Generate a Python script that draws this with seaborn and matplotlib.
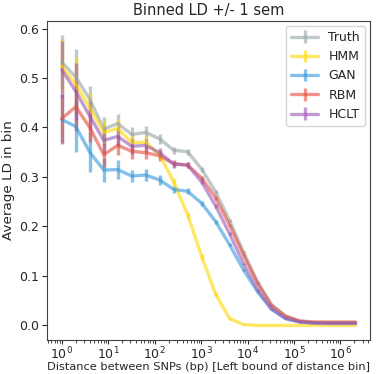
import numpy as np
import matplotlib
matplotlib.use("Agg")
import matplotlib.pyplot as plt
import seaborn as sns

# bin left bounds (bp)
distance = [1, 2, 4, 8, 16, 32, 64, 128, 256, 512, 1024, 2048, 4096, 8192,
            16384, 32768, 65536, 131072, 262144, 524288, 1048576, 2097152]

truth = [0.532, 0.502, 0.457, 0.397, 0.408, 0.386, 0.390, 0.377, 0.354, 0.351, 0.316,
         0.270, 0.212, 0.148, 0.088, 0.042, 0.019, 0.009, 0.006, 0.005, 0.005, 0.005]
hmm = [0.524, 0.487, 0.440, 0.390, 0.398, 0.370, 0.370, 0.345, 0.290, 0.224, 0.140,
       0.063, 0.014, 0.002, 0.0, 0.0, 0.0, 0.0, 0.0, 0.0, 0.0, 0.0]
gan = [0.416, 0.402, 0.350, 0.314, 0.315, 0.302, 0.304, 0.294, 0.275, 0.271, 0.247,
       0.210, 0.163, 0.112, 0.068, 0.033, 0.014, 0.007, 0.005, 0.005, 0.005, 0.005]
rbm = [0.418, 0.442, 0.400, 0.345, 0.364, 0.352, 0.349, 0.343, 0.327, 0.324, 0.298,
       0.258, 0.203, 0.142, 0.085, 0.040, 0.019, 0.009, 0.007, 0.007, 0.007, 0.007]
hclt = [0.517, 0.473, 0.423, 0.374, 0.382, 0.362, 0.364, 0.349, 0.326, 0.324, 0.290,
        0.242, 0.185, 0.125, 0.072, 0.033, 0.014, 0.007, 0.005, 0.004, 0.004, 0.004]

# +/- 1 sem
truth_sem = [0.054, 0.057, 0.027, 0.025, 0.020, 0.015, 0.014, 0.010, 0.007, 0.006, 0.005,
             0.004, 0.003, 0.002, 0.002, 0.001, 0.001, 0.001, 0.001, 0.001, 0.001, 0.001]
hmm_sem = [0.055, 0.055, 0.030, 0.025, 0.020, 0.015, 0.014, 0.010, 0.007, 0.006, 0.005,
           0.004, 0.002, 0.001, 0.0, 0.0, 0.0, 0.0, 0.0, 0.0, 0.0, 0.0]
gan_sem = [0.050, 0.052, 0.040, 0.024, 0.019, 0.013, 0.012, 0.010, 0.007, 0.006, 0.005,
           0.004, 0.003, 0.002, 0.002, 0.001, 0.001, 0.001, 0.001, 0.001, 0.001, 0.001]
rbm_sem = [0.050, 0.050, 0.030, 0.024, 0.020, 0.015, 0.013, 0.010, 0.007, 0.006, 0.005,
           0.004, 0.003, 0.002, 0.002, 0.001, 0.001, 0.001, 0.001, 0.001, 0.001, 0.001]
hclt_sem = [0.057, 0.057, 0.030, 0.025, 0.020, 0.015, 0.013, 0.010, 0.007, 0.006, 0.005,
            0.004, 0.003, 0.002, 0.002, 0.001, 0.001, 0.001, 0.001, 0.001, 0.001, 0.001]

labels = ["Truth", "HMM", "GAN", "RBM", "HCLT"]
colori = ["#95a5a6", "#ffd700", "#3498db", "#e74c3c", "#9b59b6"]

sns.set_style("ticks")
plt.rcParams["font.family"] = ["DejaVu Sans"]

fig = plt.figure(figsize=(3.8, 3.74), dpi=100)
ax = fig.add_axes([0.124, 0.091, 0.850, 0.853])

serie = [(truth, truth_sem), (hmm, hmm_sem), (gan, gan_sem), (rbm, rbm_sem), (hclt, hclt_sem)]
for (val, err), lab, col in zip(serie, labels, colori):
    ax.errorbar(distance, val, yerr=err, label=lab, color=col, alpha=0.6, linewidth=2.4,
                elinewidth=2.4)

ax.set_xscale("log")
ax.set_title("Binned LD +/- 1 sem", fontsize=10.5, pad=4)
ax.set_xlabel("Distance between SNPs (bp) [Left bound of distance bin]", fontsize=8.2, labelpad=0)
ax.set_ylabel("Average LD in bin", fontsize=9.7, labelpad=3)
ax.tick_params(labelsize=9, pad=2)
ax.tick_params(axis="x", pad=1, length=3)
ax.tick_params(axis="x", which="minor", length=2)
for s in ax.spines.values():
    s.set_color("#444444")
ax.legend(loc="upper right", fontsize=9, handlelength=2.2, borderaxespad=0.4)

fig.savefig("out.png", dpi=100)
